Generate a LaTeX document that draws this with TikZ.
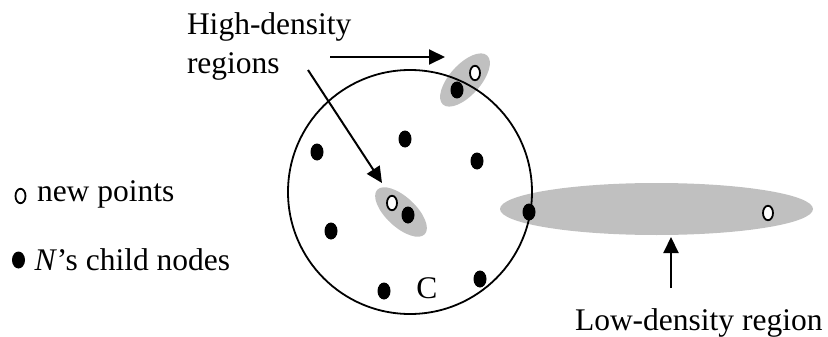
\documentclass[tikz,border=0pt]{standalone}
\usepackage{fontspec}
\setmainfont{Liberation Serif}
\usetikzlibrary{shapes.geometric,arrows.meta}
\definecolor{regiongray}{RGB}{192,192,192}
\begin{document}
\begin{tikzpicture}[x=1pt,y=-1pt,
  lbl/.style={font=\fontsize{31.5}{39}\selectfont, inner sep=0pt, outer sep=0pt},
  fdot/.style={ellipse, fill=black, minimum width=13pt, minimum height=17pt, inner sep=0pt},
  odot/.style={ellipse, draw=black, fill=white, line width=1.8pt, minimum width=10pt, minimum height=14.5pt, inner sep=0pt},
  region/.style={ellipse, fill=regiongray, inner sep=0pt},
  arr/.style={line width=2pt, -{Triangle[length=16pt,width=15pt]}},
  ]
\useasboundingbox (0,0) rectangle (828,337);
% density regions
\node[region, minimum width=66pt, minimum height=31pt, rotate=48] (r1) at (465,80) {};
\node[region, minimum width=65pt, minimum height=30pt, rotate=-43] (r2) at (401,212) {};
\node[region, minimum width=313pt, minimum height=52pt] (r3) at (656.5,209) {};
% cluster circle
\node[circle, draw=black, line width=1.8pt, minimum size=244pt, inner sep=0pt] (clu) at (410,192) {};
% child nodes and new points
\node[fdot] (p1) at (457,90) {};
\node[odot] (n1) at (475,73) {};
\node[fdot] (p2) at (317,152) {};
\node[fdot] (p3) at (405,139) {};
\node[fdot] (p4) at (477,161) {};
\node[fdot] (p5) at (331,231) {};
\node[fdot] (p6) at (384,291) {};
\node[fdot] (p7) at (480,279) {};
\node[odot] (n2) at (392,203) {};
\node[fdot] (p8) at (408,215) {};
\node[fdot] (p9) at (529,212) {};
\node[odot] (n3) at (768,213) {};
% labels
\node[lbl, anchor=base] (cl) at (427,298) {C};
\node[lbl, anchor=base west] (hd1) at (187,35) {High-density};
\node[lbl, anchor=base west] (hd2) at (187,74) {regions};
\node[lbl, anchor=base west] (ld) at (575,330) {Low-density region};
% legend
\node[odot] (ln) at (20.5,196) {};
\node[fdot] (lc) at (18.5,260) {};
\node[lbl, anchor=base west] (tn) at (37,201) {new points};
\node[lbl, anchor=base west] (tc) at (34.5,270) {\textit{N}’s child nodes};
% arrows
\coordinate (ha) at (330,57);
\coordinate (hb) at (445,57);
\coordinate (da) at (308,70);
\coordinate (db) at (382,183);
\coordinate (la) at (671,288);
\coordinate (lb) at (671,237);
\draw[arr] (ha) -- (hb);
\draw[arr] (da) -- (db);
\draw[arr] (la) -- (lb);
\end{tikzpicture}
\end{document}
